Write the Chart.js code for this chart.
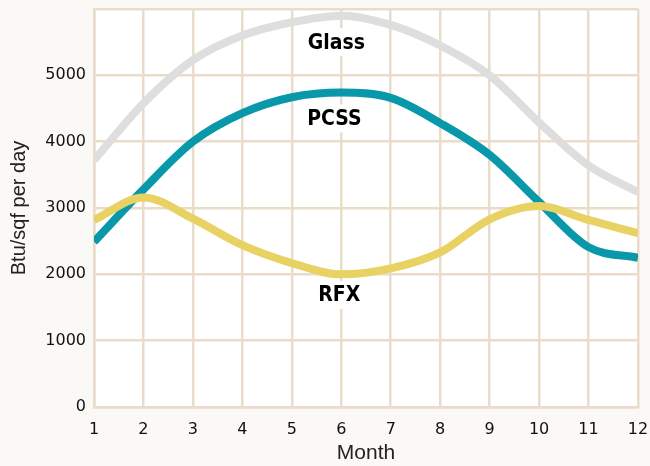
<!DOCTYPE html>
<html>
<head>
<meta charset="utf-8">
<script src="https://cdn.jsdelivr.net/npm/chart.js@4/dist/chart.umd.min.js"></script>
<style>
  html, body { margin: 0; padding: 0; background: #fbf9f6; }
  #wrap { width: 650px; height: 466px; }
</style>
</head>
<body>
<div id="wrap"><canvas id="lineGraph" width="650" height="466"></canvas></div>
<script>
// DATA

const months = [1, 2, 3, 4, 5, 6, 7, 8, 9, 10, 11, 12];
const glass = [3720, 4580, 5230, 5600, 5800, 5900, 5760, 5450, 5000, 4290, 3640, 3240];
const pcss  = [2490, 3280, 4000, 4430, 4670, 4740, 4660, 4280, 3800, 3090, 2410, 2250];
const rfx   = [2820, 3160, 2840, 2440, 2170, 2000, 2090, 2330, 2830, 3030, 2820, 2620];
const yTicks = [0, 1000, 2000, 3000, 4000, 5000, 6000];

// series labels drawn inside the plot [name, month, value]
const seriesLabels = [
    ['Glass', 5.9, 5500],
    ['PCSS', 5.86, 4350],
    ['RFX', 5.96, 1690]
];

const gridColor = '#e9dcc8';

// white plot area
const plotBg = {
    id: 'plotBg',
    beforeDraw(chart) {
        const a = chart.chartArea;
        const c = chart.ctx;
        c.save();
        c.fillStyle = '#ffffff';
        c.fillRect(a.left, a.top, a.right - a.left, a.bottom - a.top);
        c.restore();
    }
};

// bold names with white box behind them
const nameLabels = {
    id: 'nameLabels',
    afterDatasetsDraw(chart) {
        const c = chart.ctx;
        const xs = chart.scales.x, ys = chart.scales.y;
        c.save();
        c.font = 'bold 21px "DejaVu Sans Condensed", "Liberation Sans Narrow", sans-serif';
        c.textAlign = 'center';
        c.textBaseline = 'middle';
        seriesLabels.forEach(l => {
            const px = xs.getPixelForValue(l[1]);
            const py = ys.getPixelForValue(l[2]);
            const w = c.measureText(l[0]).width;
            c.fillStyle = '#ffffff';
            c.fillRect(px - w / 2 - 4, py - 14, w + 8, 28);
            c.fillStyle = '#000000';
            c.fillText(l[0], px, py + 1);
        });
        c.restore();
    }
};

const tickFont = { family: '"DejaVu Sans", sans-serif', size: 16 };

const ctx1 = document.getElementById('lineGraph').getContext('2d');
const myChart1 = new Chart(ctx1, {
    type: 'line',
    data: {
        labels: months,
        datasets: [{
            label: 'Glass',
            data: glass,
            borderColor: '#dedede',
            borderWidth: 8
        }, {
            label: 'RFX',
            data: rfx,
            borderColor: '#e8d263',
            borderWidth: 8
        }, {
            label: 'PCSS',
            data: pcss,
            borderColor: '#0898aa',
            borderWidth: 8
        }]
    },
    options: {
        responsive: false,
        animation: false,
        layout: { padding: { top: 9, right: 12, left: 0, bottom: 0 } },
        elements: {
            point: { radius: 0 },
            line: { cubicInterpolationMode: 'monotone', fill: false, borderCapStyle: 'butt', borderJoinStyle: 'round' }
        },
        plugins: {
            legend: { display: false },
            tooltip: { enabled: false }
        },
        scales: {
            x: {
                type: 'linear',
                min: 1,
                max: 12,
                afterBuildTicks(scale) { scale.ticks = months.map(v => ({ value: v })); },
                afterFit(scale) {
                    scale.height = 59;
                    scale.paddingLeft = 0;
                    scale.paddingRight = 0;
                },
                grid: { color: gridColor, lineWidth: 2.5, drawTicks: false },
                border: { color: gridColor, width: 2.5 },
                ticks: {
                    color: '#111',
                    padding: 13,
                    maxRotation: 0,
                    font: tickFont
                },
                title: {
                    display: true,
                    text: 'Month',
                    color: '#222',
                    padding: { top: 3, bottom: 0 },
                    font: { family: '"Liberation Sans", Arial, sans-serif', size: 21 }
                }
            },
            y: {
                min: 0,
                max: 6000,
                afterBuildTicks(scale) { scale.ticks = yTicks.map(v => ({ value: v })); },
                afterFit(scale) {
                    scale.width = 94;
                    scale.paddingTop = 0;
                    scale.paddingBottom = 0;
                },
                grid: { color: gridColor, lineWidth: 2.5, drawTicks: false },
                border: { color: gridColor, width: 2.5 },
                ticks: {
                    color: '#111',
                    padding: 8,
                    callback: v => v === 6000 ? '' : v,
                    font: tickFont
                },
                title: {
                    display: true,
                    text: 'Btu/sqf per day',
                    color: '#222',
                    padding: { top: 7, bottom: 4 },
                    font: { family: '"Liberation Sans", Arial, sans-serif', size: 20 }
                }
            }
        }
    },
    plugins: [plotBg, nameLabels]
});
</script>
</body>
</html>
